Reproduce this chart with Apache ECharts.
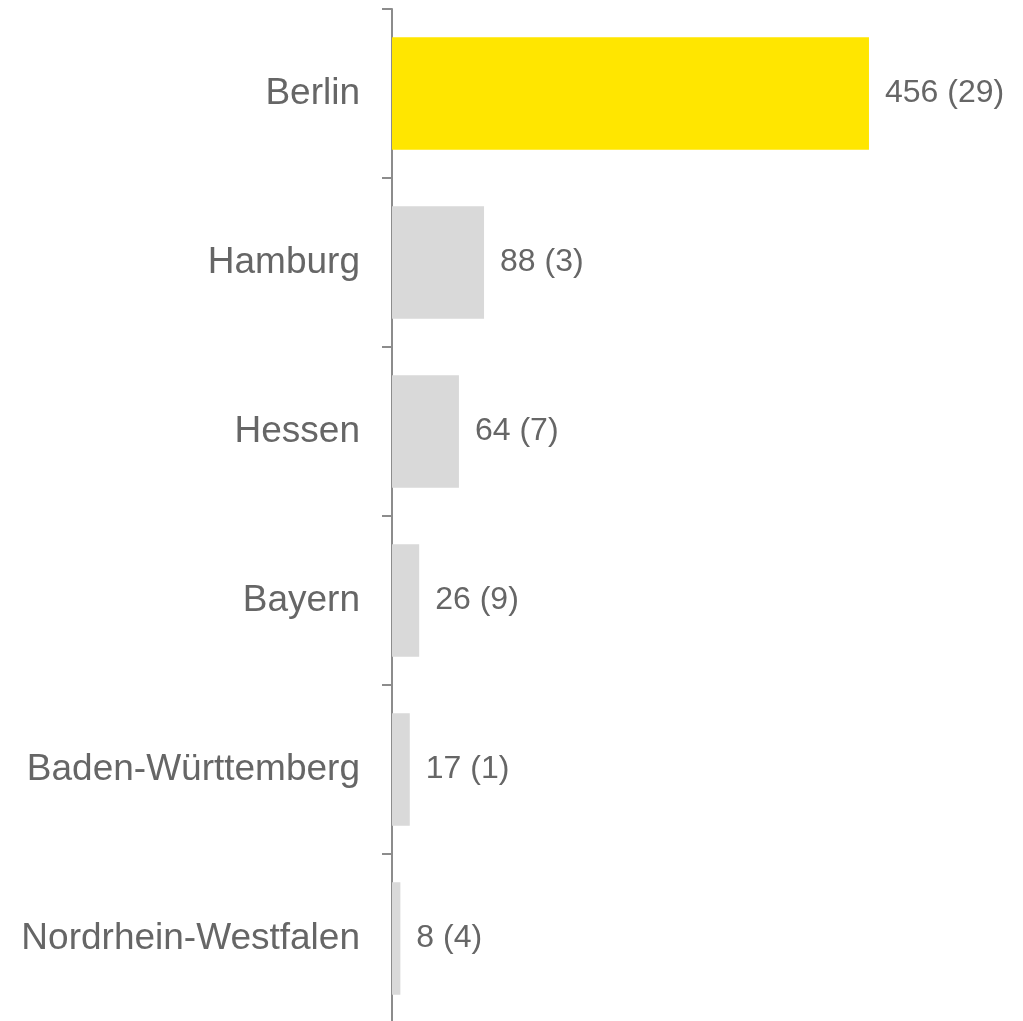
<!DOCTYPE html>
<html><head><meta charset="utf-8">
<script src="https://cdn.jsdelivr.net/npm/echarts@6/dist/echarts.min.js"></script>
<style>html,body{margin:0;padding:0;background:#fff}#c{width:1023px;height:1021px}</style>
</head><body><div id="c"></div>
<script>
const categories = ['Berlin','Hamburg','Hessen','Bayern','Baden-Württemberg','Nordrhein-Westfalen'];
const values = [456, 88, 64, 26, 17, 8];
const counts = [29, 3, 7, 9, 1, 4];
const colors = ['#FFE600','#D9D9D9','#D9D9D9','#D9D9D9','#D9D9D9','#D9D9D9'];

const chart = echarts.init(document.getElementById('c'), null, {renderer:'canvas'});
chart.setOption({
  animation:false,
  grid:{left:392, top:9, width:627.6, height:1014, containLabel:false, outerBoundsMode:'none'},
  xAxis:{type:'value', min:0, max:600, show:false},
  yAxis:{type:'category', inverse:true, data:categories,
    axisLine:{show:true, lineStyle:{color:'#8c8c8c', width:2}},
    axisTick:{show:true, length:10, lineStyle:{color:'#8c8c8c', width:2}},
    axisLabel:{margin:32, fontFamily:'Liberation Sans, Arial, sans-serif', fontSize:37, color:'#666666', padding:[3,0,0,0]}
  },
  series:[{type:'bar', barWidth:'66.5%',
    data: values.map((v,i)=>({value:v, itemStyle:{color:colors[i]}})),
    label:{show:true, position:'right', distance:16, fontFamily:'Liberation Sans, Arial, sans-serif', fontSize:32, color:'#666666',
      padding:[3,0,0,0],
      formatter: p => p.value + ' (' + counts[p.dataIndex] + ')'}
  }]
});
</script></body></html>
